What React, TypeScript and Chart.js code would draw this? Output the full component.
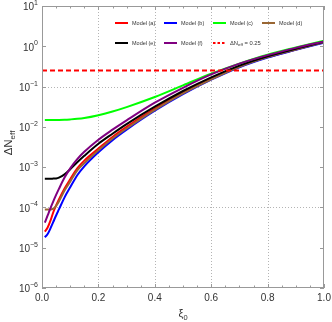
import { useEffect, useRef } from "react";
import { Chart, registerables } from "chart.js";

Chart.register(...registerables);

// ---- data ----
const xi = [0.01, 0.02, 0.03, 0.04, 0.05, 0.06, 0.08, 0.1, 0.125, 0.15, 0.2, 0.25, 0.3, 0.4, 0.5, 0.6, 0.7, 0.8, 0.9, 1.0];

const modelA = [2.51e-5, 3.16e-5, 4.68e-5, 7.59e-5, 1.12e-4, 1.58e-4, 2.95e-4, 5.01e-4, 9.33e-4, 1.45e-3, 2.88e-3, 5.62e-3, 1.0e-2, 2.82e-2, 7.08e-2, 0.158, 0.316, 0.537, 0.832, 1.26];
const modelB = [1.82e-5, 2.19e-5, 3.02e-5, 4.37e-5, 6.31e-5, 8.91e-5, 1.78e-4, 3.16e-4, 6.31e-4, 1.05e-3, 2.34e-3, 4.68e-3, 8.51e-3, 2.51e-2, 6.46e-2, 0.148, 0.302, 0.525, 0.813, 1.23];
const modelC = [1.48e-2, 1.48e-2, 1.48e-2, 1.48e-2, 1.483e-2, 1.486e-2, 1.50e-2, 1.53e-2, 1.58e-2, 1.66e-2, 1.95e-2, 2.40e-2, 3.09e-2, 5.50e-2, 0.107, 0.209, 0.372, 0.617, 0.933, 1.38];
const modelD = [8.91e-5, 8.91e-5, 8.91e-5, 9.33e-5, 1.10e-4, 1.41e-4, 2.63e-4, 4.37e-4, 8.32e-4, 1.26e-3, 2.63e-3, 5.13e-3, 9.12e-3, 2.63e-2, 6.76e-2, 0.151, 0.309, 0.537, 0.832, 1.26];
const modelE = [5.13e-4, 5.13e-4, 5.13e-4, 5.19e-4, 5.25e-4, 5.50e-4, 6.61e-4, 8.91e-4, 1.32e-3, 1.91e-3, 3.80e-3, 6.76e-3, 1.17e-2, 3.16e-2, 7.76e-2, 0.170, 0.331, 0.562, 0.871, 1.29];
const modelF = [4.17e-5, 6.31e-5, 9.55e-5, 1.41e-4, 2.04e-4, 2.88e-4, 5.50e-4, 9.33e-4, 1.58e-3, 2.40e-3, 4.79e-3, 8.51e-3, 1.45e-2, 3.98e-2, 9.33e-2, 0.200, 0.372, 0.603, 0.912, 1.32];

const thresholdX = [0, 1];
const thresholdY = [0.25, 0.25];

const seriesLabels = ["Model (a)", "Model (b)", "Model (c)", "Model (d)", "Model (e)", "Model (f)", "ΔN_eff = 0.25"];
const seriesColors = ["#ff0000", "#0000ff", "#00ff00", "#996633", "#000000", "#800080", "#ff0000"];

const xTickValues = [0, 0.2, 0.4, 0.6, 0.8, 1.0];
const xTickLabels = ["0.0", "0.2", "0.4", "0.6", "0.8", "1.0"];
const xMinorStep = 0.05;
const yDecades = [-6, -5, -4, -3, -2, -1, 0, 1];
const gridX = [0.2, 0.4, 0.6, 0.8];
const gridY = [1e-1, 1e-4];

const FONT = "'Liberation Sans', Arial, sans-serif";

function pts(xs: number[], ys: number[]) {
  return xs.map((x, i) => ({ x, y: ys[i] }));
}

function drawSub(ctx: CanvasRenderingContext2D, main: string, sub: string, rest: string, x: number, y: number, size: number, subSize: number, subDrop: number) {
  ctx.font = `${size}px ${FONT}`;
  ctx.fillText(main, x, y);
  let cx = x + ctx.measureText(main).width;
  ctx.font = `${subSize}px ${FONT}`;
  ctx.fillText(sub, cx, y + subDrop);
  cx += ctx.measureText(sub).width;
  if (rest) {
    ctx.font = `${size}px ${FONT}`;
    ctx.fillText(rest, cx, y);
  }
}

function subWidth(ctx: CanvasRenderingContext2D, main: string, sub: string, rest: string, size: number, subSize: number) {
  ctx.font = `${size}px ${FONT}`;
  let w = ctx.measureText(main).width + (rest ? ctx.measureText(rest).width : 0);
  ctx.font = `${subSize}px ${FONT}`;
  w += ctx.measureText(sub).width;
  return w;
}

const framePlugin = {
  id: "mmaFrame",
  beforeDatasetsDraw(chart: any) {
    const { ctx, chartArea: a, scales } = chart;
    const xs = scales.x, ys = scales.y;
    ctx.save();
    ctx.strokeStyle = "#b4b4b4";
    ctx.lineWidth = 1;
    ctx.setLineDash([1, 2]);
    gridX.forEach((v) => {
      const px = Math.round(xs.getPixelForValue(v)) + 0.5;
      ctx.beginPath();
      ctx.moveTo(px, a.top);
      ctx.lineTo(px, a.bottom);
      ctx.stroke();
    });
    gridY.forEach((v) => {
      const py = Math.round(ys.getPixelForValue(v)) + 0.5;
      ctx.beginPath();
      ctx.moveTo(a.left, py);
      ctx.lineTo(a.right, py);
      ctx.stroke();
    });
    ctx.restore();
  },
  afterDraw(chart: any) {
    const { ctx, chartArea: a, scales } = chart;
    const xs = scales.x, ys = scales.y;
    ctx.save();
    // frame
    ctx.strokeStyle = "#999999";
    ctx.lineWidth = 1;
    ctx.setLineDash([]);
    ctx.strokeRect(Math.round(a.left) + 0.5, Math.round(a.top) + 0.5, Math.round(a.right - a.left) - 1, Math.round(a.bottom - a.top) - 1);
    // x ticks (inward, bottom and top)
    ctx.beginPath();
    for (let k = 0; k <= Math.round(1 / xMinorStep); k++) {
      const v = k * xMinorStep;
      const major = k % 4 === 0;
      const len = major ? 4 : 2.5;
      const px = Math.round(xs.getPixelForValue(v)) + 0.5;
      ctx.moveTo(px, a.bottom);
      ctx.lineTo(px, a.bottom - len);
      ctx.moveTo(px, a.top);
      ctx.lineTo(px, a.top + len);
    }
    yDecades.forEach((d) => {
      const py = Math.round(ys.getPixelForValue(Math.pow(10, d))) + 0.5;
      ctx.moveTo(a.left, py);
      ctx.lineTo(a.left + 4, py);
      ctx.moveTo(a.right, py);
      ctx.lineTo(a.right - 4, py);
    });
    ctx.stroke();

    // tick labels
    ctx.fillStyle = "#333333";
    ctx.textBaseline = "middle";
    ctx.textAlign = "center";
    ctx.font = `10px ${FONT}`;
    xTickValues.forEach((v, i) => {
      ctx.fillText(xTickLabels[i], xs.getPixelForValue(v), a.bottom + 10);
    });
    ctx.textAlign = "right";
    yDecades.forEach((d) => {
      const py = ys.getPixelForValue(Math.pow(10, d));
      const exp = d < 0 ? "\u2212" + String(-d) : String(d);
      const rx = a.left - 4;
      ctx.font = `7px ${FONT}`;
      const ew = ctx.measureText(exp).width;
      ctx.fillText(exp, rx, py - 3);
      ctx.font = `10px ${FONT}`;
      ctx.fillText("10", rx - ew, py + 1.5);
    });

    // axis titles
    ctx.textAlign = "left";
    ctx.textBaseline = "alphabetic";
    const cx = (a.left + a.right) / 2;
    const tw = subWidth(ctx, "ξ", "0", "", 11, 7.5);
    drawSub(ctx, "ξ", "0", "", cx - tw / 2, 317, 11, 7.5, 2.5);

    ctx.save();
    ctx.translate(12, 143);
    ctx.rotate(-Math.PI / 2);
    const yw = subWidth(ctx, "ΔN", "eff", "", 11.5, 8);
    drawSub(ctx, "ΔN", "eff", "", -yw / 2, 0, 11.5, 8, 2.5);
    ctx.restore();

    // legend (inside plot, 4 columns)
    const colX = [115, 164, 213, 262];
    const rowY = [23, 43];
    chart.data.datasets.forEach((ds: any, i: number) => {
      const col = i % 4, row = Math.floor(i / 4);
      const lx = a.left + (colX[col] - 42);
      const ly = rowY[row];
      ctx.strokeStyle = ds.borderColor;
      ctx.lineWidth = 2;
      ctx.setLineDash(ds.borderDash && ds.borderDash.length ? [2.5, 2] : []);
      ctx.beginPath();
      ctx.moveTo(lx, ly);
      ctx.lineTo(lx + 13, ly);
      ctx.stroke();
      ctx.setLineDash([]);
      ctx.fillStyle = "#333333";
      ctx.textBaseline = "middle";
      const label: string = ds.label;
      const tx = lx + 17;
      if (label.includes("_")) {
        const [main, tail] = label.split("_");
        const sp = tail.indexOf(" ");
        const sub = sp >= 0 ? tail.slice(0, sp) : tail;
        const rest = sp >= 0 ? tail.slice(sp) : "";
        drawSub(ctx, main, sub, rest, tx, ly, 5.8, 4.4, 1.5);
      } else {
        ctx.font = `5.5px ${FONT}`;
        ctx.fillText(label, tx, ly);
      }
    });
    ctx.restore();
  },
};

export default function App() {
  const ref = useRef<HTMLCanvasElement | null>(null);

  useEffect(() => {
    if (!ref.current) return;
    const series = [modelA, modelB, modelC, modelD, modelE, modelF];
    const datasets: any[] = series.map((s, i) => ({
      label: seriesLabels[i],
      data: pts(xi, s),
      borderColor: seriesColors[i],
      borderWidth: 2,
      pointRadius: 0,
      fill: false,
      cubicInterpolationMode: "monotone",
      order: 10 - i,
    }));
    datasets.push({
      label: seriesLabels[6],
      data: pts(thresholdX, thresholdY),
      borderColor: seriesColors[6],
      borderWidth: 2,
      borderDash: [5, 3],
      pointRadius: 0,
      fill: false,
      order: 0,
    });

    const chart = new Chart(ref.current, {
      type: "line",
      data: { datasets },
      options: {
        responsive: false,
        animation: false,
        devicePixelRatio: 1,
        layout: { padding: { left: 42, right: 8, top: 6, bottom: 34 } },
        plugins: { legend: { display: false }, tooltip: { enabled: false } },
        scales: {
          x: { type: "linear", min: 0, max: 1, display: false },
          y: { type: "logarithmic", min: 1e-6, max: 10, display: false },
        },
      },
      plugins: [framePlugin],
    });
    return () => chart.destroy();
  }, []);

  return (
    <div style={{ position: "fixed", left: 0, top: 0, width: 332, height: 322, background: "#fff" }}>
      <canvas ref={ref} width={332} height={322} style={{ width: 332, height: 322 }} />
    </div>
  );
}
